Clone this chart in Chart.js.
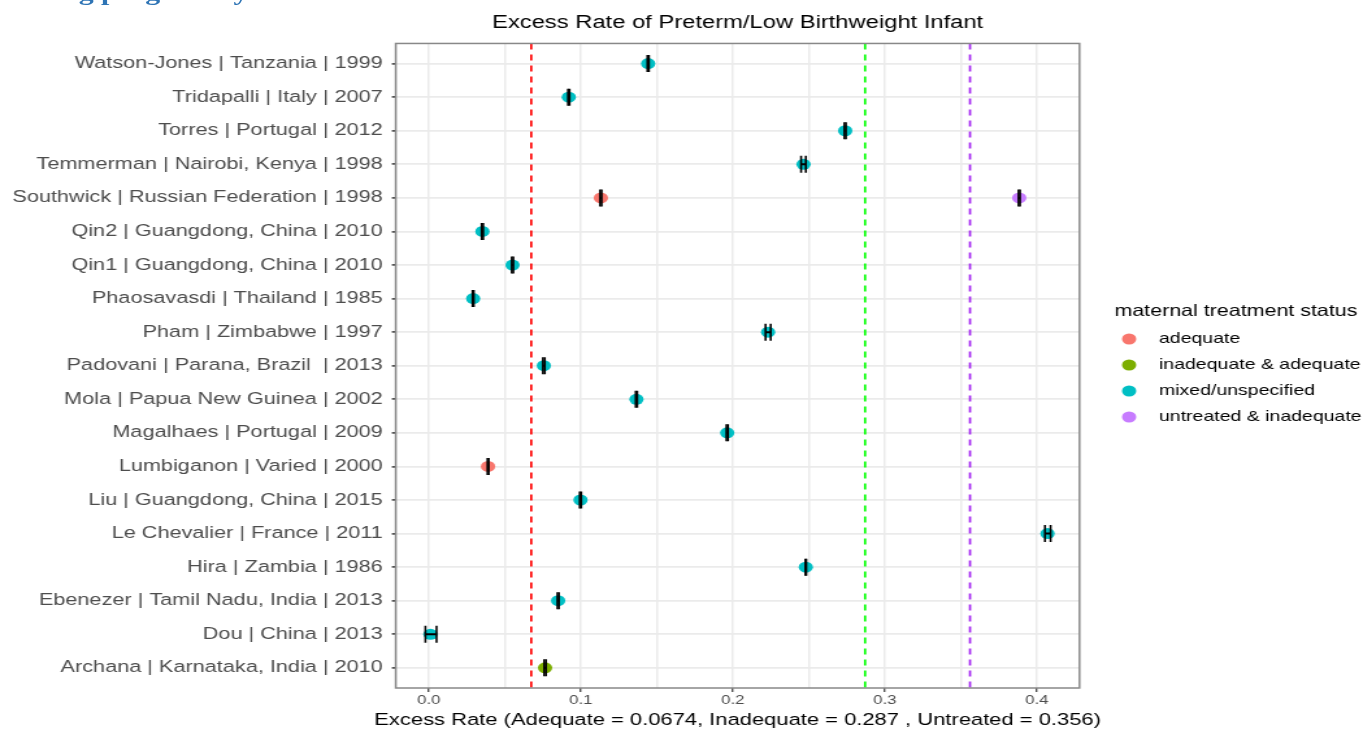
<!DOCTYPE html>
<html>
<head>
<meta charset="utf-8">
<title>Excess Rate of Preterm/Low Birthweight Infant</title>
<script src="https://cdn.jsdelivr.net/npm/chart.js@4/dist/chart.umd.min.js"></script>
<style>
  html, body { margin: 0; padding: 0; background: #fff; overflow: hidden; }
  /* the reference picture is stretched sideways, so the whole stage is too */
  #stage { position: absolute; left: 0; top: 0; width: 1049px; height: 730px;
           transform-origin: 0 0; transform: scaleX(1.2993); }
  #heading { position: absolute; left: -17px; top: -20px; line-height: 23px;
             font: bold 23px "Liberation Serif", "Times New Roman", serif;
             color: #2e74b5; white-space: nowrap; }
</style>
</head>
<body>
<div id="stage">
  <canvas id="chart" width="1049" height="730"></canvas>
  <div id="heading">Tracking progress by</div>
</div>
<script>
// Studies, top to bottom as on the y axis
const studies = [
  'Watson-Jones | Tanzania | 1999',
  'Tridapalli | Italy | 2007',
  'Torres | Portugal | 2012',
  'Temmerman | Nairobi, Kenya | 1998',
  'Southwick | Russian Federation | 1998',
  'Qin2 | Guangdong, China | 2010',
  'Qin1 | Guangdong, China | 2010',
  'Phaosavasdi | Thailand | 1985',
  'Pham | Zimbabwe | 1997',
  'Padovani | Parana, Brazil  | 2013',
  'Mola | Papua New Guinea | 2002',
  'Magalhaes | Portugal | 2009',
  'Lumbiganon | Varied | 2000',
  'Liu | Guangdong, China | 2015',
  'Le Chevalier | France | 2011',
  'Hira | Zambia | 1986',
  'Ebenezer | Tamil Nadu, India | 2013',
  'Dou | China | 2013',
  'Archana | Karnataka, India | 2010'
];

// Treatment groups (legend)
const legendTitle = 'maternal treatment status';
const groups = ['adequate', 'inadequate & adequate', 'mixed/unspecified', 'untreated & inadequate'];
const groupColors = ['#F8766D', '#7CAE00', '#00BFC4', '#C77CFF'];

// One entry per estimate
const estStudy = [
  'Watson-Jones | Tanzania | 1999',
  'Tridapalli | Italy | 2007',
  'Torres | Portugal | 2012',
  'Temmerman | Nairobi, Kenya | 1998',
  'Southwick | Russian Federation | 1998',
  'Southwick | Russian Federation | 1998',
  'Qin2 | Guangdong, China | 2010',
  'Qin1 | Guangdong, China | 2010',
  'Phaosavasdi | Thailand | 1985',
  'Pham | Zimbabwe | 1997',
  'Padovani | Parana, Brazil  | 2013',
  'Mola | Papua New Guinea | 2002',
  'Magalhaes | Portugal | 2009',
  'Lumbiganon | Varied | 2000',
  'Liu | Guangdong, China | 2015',
  'Le Chevalier | France | 2011',
  'Hira | Zambia | 1986',
  'Ebenezer | Tamil Nadu, India | 2013',
  'Dou | China | 2013',
  'Archana | Karnataka, India | 2010'
];
const estGroup = [
  'mixed/unspecified', 'mixed/unspecified', 'mixed/unspecified', 'mixed/unspecified',
  'adequate', 'untreated & inadequate',
  'mixed/unspecified', 'mixed/unspecified', 'mixed/unspecified', 'mixed/unspecified',
  'mixed/unspecified', 'mixed/unspecified', 'mixed/unspecified',
  'adequate',
  'mixed/unspecified', 'mixed/unspecified', 'mixed/unspecified', 'mixed/unspecified', 'mixed/unspecified',
  'inadequate & adequate'
];
const estRate = [0.1443, 0.0921, 0.2739, 0.2465, 0.1132, 0.3884, 0.0353, 0.0551, 0.0292, 0.2232,
                 0.0757, 0.1366, 0.1963, 0.0390, 0.0998, 0.4070, 0.2480, 0.0851, 0.0011, 0.0765];
const estLow  = [0.1438, 0.0916, 0.2734, 0.2449, 0.1127, 0.3879, 0.0348, 0.0546, 0.0288, 0.2215,
                 0.0751, 0.1361, 0.1958, 0.0386, 0.0993, 0.4053, 0.2477, 0.0846, -0.0022, 0.0759];
const estHigh = [0.1448, 0.0926, 0.2744, 0.2480, 0.1137, 0.3889, 0.0358, 0.0556, 0.0296, 0.2249,
                 0.0763, 0.1371, 0.1968, 0.0394, 0.1003, 0.4090, 0.2483, 0.0856, 0.0051, 0.0771];

// Pooled reference lines
const refLabels = ['Adequate', 'Inadequate', 'Untreated'];
const refRates = [0.0674, 0.287, 0.356];
const refColors = ['#FF0000', '#00FF00', '#A020F0'];

// x axis ticks (labels only on the tenths)
const xTicks = [0, 0.05, 0.1, 0.15, 0.2, 0.25, 0.3, 0.35, 0.4];
const xTitle = `Excess Rate (Adequate = ${refRates[0]}, Inadequate = ${refRates[1]} , Untreated = ${refRates[2]})`;

const FONT = '"Liberation Sans", Arial, Helvetica, sans-serif';
Chart.defaults.font.family = FONT;

const yMin = -0.6, yMax = studies.length - 0.4;
const rowOf = name => studies.indexOf(name);
const isTenth = v => Math.abs(v * 10 - Math.round(v * 10)) < 1e-6;

// error bars: pairs of points, broken by null gaps
const errData = [];
estRate.forEach((r, i) => {
  const y = rowOf(estStudy[i]);
  errData.push({ x: estLow[i], y: y }, { x: estHigh[i], y: y }, { x: null, y: null });
});

const errSet = {
  label: 'ci',
  data: errData,
  showLine: true,
  borderColor: '#000',
  borderWidth: 2,
  pointStyle: 'line',
  pointRotation: 90,
  pointRadius: 8.5,
  pointHoverRadius: 8.5,
  pointBorderColor: '#000',
  pointBorderWidth: 1.6
};

const groupSets = groups.map((g, k) => ({
  label: g,
  data: estRate.map((r, i) => estGroup[i] === g ? { x: r, y: rowOf(estStudy[i]) } : null).filter(Boolean),
  backgroundColor: groupColors[k],
  borderWidth: 0,
  pointRadius: 5.5,
  pointHoverRadius: 5.5
}));

const refSets = refRates.map((v, k) => ({
  label: refLabels[k],
  data: [{ x: v, y: yMin }, { x: v, y: yMax }],
  showLine: true,
  borderColor: refColors[k],
  borderWidth: 1.7,
  borderDash: [6, 5],
  pointRadius: 0
}));

// panel border, x title (wider than the panel) and legend on the right
const panelAndLegend = {
  id: 'panelAndLegend',
  afterDraw(chart) {
    const { ctx, chartArea: a } = chart;
    ctx.save();
    ctx.strokeStyle = '#888';
    ctx.lineWidth = 1.5;
    ctx.strokeRect(a.left, a.top, a.right - a.left, a.bottom - a.top);

    ctx.textBaseline = 'middle';
    ctx.fillStyle = '#000';
    ctx.textAlign = 'center';
    ctx.font = '16.9px ' + FONT;
    ctx.fillText(xTitle, (a.left + a.right) / 2, 720);

    ctx.textAlign = 'left';
    ctx.font = '16.5px ' + FONT;
    ctx.fillText(legendTitle, 857.7, 311);
    ctx.font = '15px ' + FONT;
    groups.forEach((g, k) => {
      const y = 339 + k * 26;
      ctx.beginPath();
      ctx.arc(869, y, 5.5, 0, Math.PI * 2);
      ctx.fillStyle = groupColors[k];
      ctx.fill();
      ctx.fillStyle = '#000';
      ctx.fillText(g, 892, y);
    });
    ctx.restore();
  }
};

new Chart(document.getElementById('chart'), {
  type: 'scatter',
  data: { datasets: [errSet, ...groupSets, ...refSets] },
  options: {
    responsive: false,
    animation: false,
    events: [],
    layout: { padding: { left: 0, right: 218.2, top: 0, bottom: 0 } },
    plugins: {
      legend: { display: false },
      tooltip: { enabled: false },
      title: {
        display: true,
        text: 'Excess Rate of Preterm/Low Birthweight Infant',
        color: '#000',
        font: { size: 18.3, weight: 'normal' },
        padding: { top: 12, bottom: 9.5 },
        fullSize: false
      }
    },
    scales: {
      x: {
        type: 'linear',
        min: -0.0217,
        max: 0.428,
        afterBuildTicks: s => { s.ticks = xTicks.map(v => ({ value: v })); },
        afterFit: s => { s.height = 42; },
        border: { display: false },
        grid: {
          color: '#ebebeb',
          lineWidth: 1.5,
          tickLength: 4,
          tickWidth: 1.2,
          tickColor: c => (c.tick && isTenth(c.tick.value)) ? '#333' : 'rgba(0,0,0,0)'
        },
        ticks: {
          autoSkip: false,
          maxRotation: 0,
          padding: 1,
          color: '#4d4d4d',
          font: { size: 13 },
          callback: v => isTenth(v) ? v.toFixed(1) : ''
        },
        title: { display: false }
      },
      y: {
        type: 'linear',
        reverse: true,
        min: yMin,
        max: yMax,
        afterBuildTicks: s => { s.ticks = studies.map((_, i) => ({ value: i })); },
        afterFit: s => { s.width = 304.6; },
        border: { display: false },
        grid: {
          color: '#ebebeb',
          lineWidth: 1.8,
          tickLength: 3,
          tickWidth: 1.5,
          tickColor: '#333'
        },
        ticks: {
          autoSkip: false,
          padding: 7,
          color: '#4d4d4d',
          font: { size: 16.7 },
          callback: v => studies[v]
        }
      }
    }
  },
  plugins: [panelAndLegend]
});
</script>
</body>
</html>
